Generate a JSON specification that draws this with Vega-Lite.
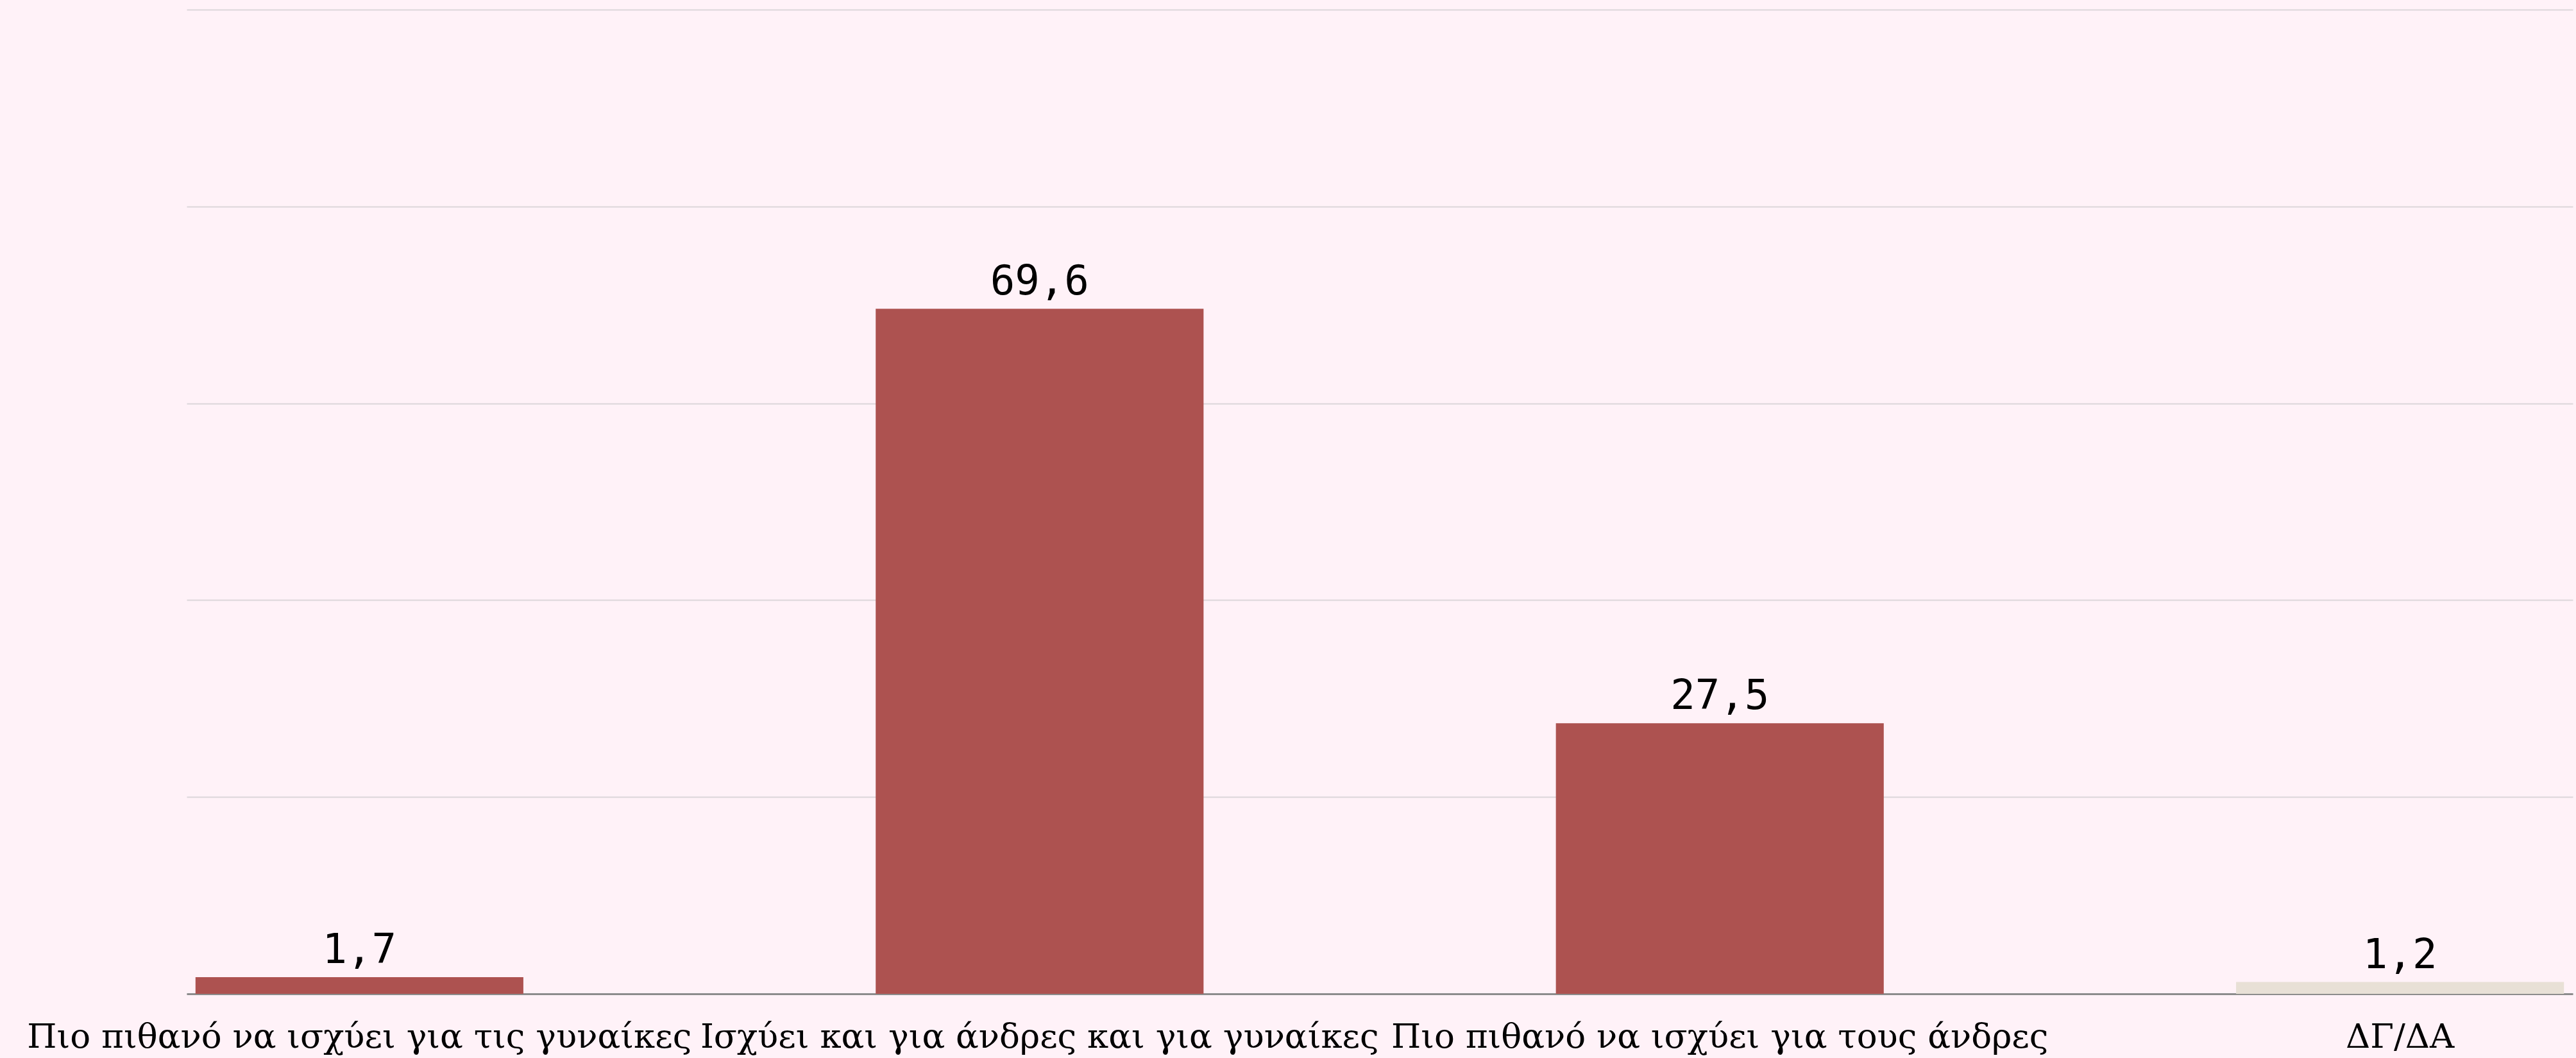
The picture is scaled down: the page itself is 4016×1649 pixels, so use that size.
{
  "$schema": "https://vega.github.io/schema/vega-lite/v6.json",
  "width": 3720,
  "height": 1534,
  "autosize": {"type": "none"},
  "padding": {"left": 291, "top": 15, "right": 5, "bottom": 100},
  "background": "#fff2f8",
  "config": {
    "locale": {"number": {"decimal": ",", "thousands": ".", "grouping": [3], "currency": ["", " €"]}},
    "view": {"stroke": null}
  },
  "data": {
    "values": [
      {"answer": "Πιο πιθανό να ισχύει για τις γυναίκες", "value": 1.7, "kind": "main"},
      {"answer": "Ισχύει και για άνδρες και για γυναίκες", "value": 69.6, "kind": "main"},
      {"answer": "Πιο πιθανό να ισχύει για τους άνδρες", "value": 27.5, "kind": "main"},
      {"answer": "ΔΓ/ΔΑ", "value": 1.2, "kind": "dk"}
    ]
  },
  "encoding": {
    "x": {
      "field": "answer",
      "type": "nominal",
      "sort": null,
      "scale": {"paddingInner": 0.518, "paddingOuter": 0.013},
      "axis": {
        "title": null,
        "labelAngle": 0,
        "labelFont": "DejaVu Serif",
        "labelFontSize": 53,
        "labelColor": "#000000",
        "labelLimit": 0,
        "labelOverlap": false,
        "labelBaseline": "alphabetic",
        "labelPadding": 83,
        "ticks": false,
        "domainColor": "#8c8c8c",
        "domainWidth": 3,
        "grid": false
      }
    },
    "y": {
      "field": "value",
      "type": "quantitative",
      "scale": {"domain": [0, 100]},
      "axis": {
        "title": null,
        "labels": false,
        "ticks": false,
        "domain": false,
        "values": [0, 20, 40, 60, 80, 100],
        "grid": true,
        "gridColor": "#dcd6da",
        "gridWidth": 2
      }
    }
  },
  "layer": [
    {
      "mark": {"type": "bar"},
      "encoding": {
        "color": {
          "field": "kind",
          "type": "nominal",
          "scale": {"domain": ["main", "dk"], "range": ["#ad5250", "#e8e0d6"]},
          "legend": null
        }
      }
    },
    {
      "mark": {"type": "text", "baseline": "alphabetic", "dy": -22, "font": "DejaVu Sans Mono", "fontSize": 64, "color": "#000000"},
      "encoding": {
        "text": {"field": "value", "type": "quantitative", "format": ".1f"}
      }
    }
  ]
}
